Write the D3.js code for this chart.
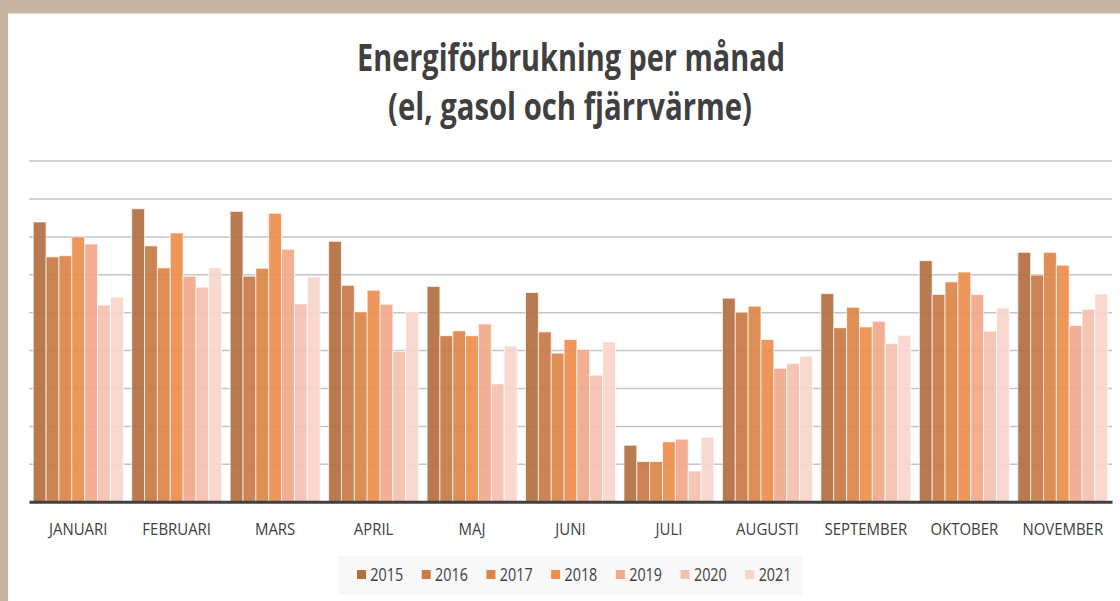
<!DOCTYPE html>
<html>
<head>
<meta charset="utf-8">
<script src="https://cdn.jsdelivr.net/npm/d3@7"></script>
<style>
    html, body { margin: 0; padding: 0; background: #c8b5a3; }
    #chart { width: 1120px; height: 601px; }
    text { font-family: "Open Sans", sans-serif; fill: #404040; }
</style>
</head>
<body>
<div id="chart"></div>
<script>
// Months and years
const months = ['JANUARI', 'FEBRUARI', 'MARS', 'APRIL', 'MAJ', 'JUNI', 'JULI',
    'AUGUSTI', 'SEPTEMBER', 'OKTOBER', 'NOVEMBER'];
const years = ['2015', '2016', '2017', '2018', '2019', '2020', '2021'];

// Values per year (gridline units)
const y2015 = [7.38, 7.73, 7.66, 6.87, 5.68, 5.52, 1.49, 5.37, 5.49, 6.36, 6.58];
const y2016 = [6.46, 6.75, 5.95, 5.71, 4.38, 4.48, 1.06, 5.00, 4.59, 5.47, 5.98];
const y2017 = [6.49, 6.17, 6.16, 5.01, 4.51, 3.92, 1.06, 5.16, 5.13, 5.80, 6.58];
const y2018 = [6.99, 7.09, 7.61, 5.58, 4.38, 4.28, 1.58, 4.28, 4.61, 6.06, 6.24];
const y2019 = [6.80, 5.95, 6.66, 5.21, 4.69, 4.02, 1.65, 3.52, 4.76, 5.47, 4.65];
const y2020 = [5.19, 5.66, 5.22, 3.97, 3.11, 3.34, 0.81, 3.65, 4.17, 4.50, 5.08];
const y2021 = [5.40, 6.17, 5.93, 5.01, 4.11, 4.22, 1.70, 3.84, 4.39, 5.11, 5.48];
const series = [y2015, y2016, y2017, y2018, y2019, y2020, y2021];

const gridTicks = [1, 2, 3, 4, 5, 6, 7, 8, 9];

const colors = ['#b36f40', '#c97a45', '#db8548', '#ee8e4c', '#f2a88a', '#f4c1b0', '#f7d5cb'];

// Table for drawing
const table = months.map((m, i) => {
    const row = { month: m };
    years.forEach((y, j) => { row[y] = series[j][i]; });
    return row;
});

const W = 1120, H = 601;
const svg = d3.select('#chart').append('svg')
    .attr('width', W).attr('height', H);

// white panel on tan frame
svg.append('rect').attr('x', 8).attr('y', 13).attr('width', W - 8).attr('height', H - 13)
    .attr('fill', '#ffffff');
svg.append('line').attr('x1', 8).attr('x2', W).attr('y1', 13.5).attr('y2', 13.5)
    .attr('stroke', '#dde0e3').attr('stroke-width', 1);

// Title
const title = svg.append('g').attr('font-weight', 700).attr('text-anchor', 'middle');
title.append('text').attr('x', 571).attr('y', 71)
    .attr('font-size', 37).attr('textLength', 428).attr('lengthAdjust', 'spacingAndGlyphs')
    .text('Energiförbrukning per månad');
title.append('text').attr('x', 570).attr('y', 120)
    .attr('font-size', 37).attr('textLength', 364).attr('lengthAdjust', 'spacingAndGlyphs')
    .text('(el, gasol och fjärrvärme)');

// Scales
const x0 = d3.scaleBand().domain(months).range([29, 1112])
    .paddingInner(0.086).paddingOuter(0.043);
const x1 = d3.scaleBand().domain(years).range([0, x0.bandwidth()]);
const y = d3.scaleLinear().domain([0, 9]).range([501.7, 160.6]);

// Gridlines
svg.append('g')
    .attr('transform', 'translate(29,0)')
    .call(d3.axisLeft(y).tickValues(gridTicks).tickSize(-(1112 - 29)).tickFormat(''))
    .call(g => g.select('.domain').remove())
    .call(g => g.selectAll('.tick line').attr('stroke', '#c4c4c4').attr('stroke-width', 1.5));

// Bars
svg.append('g').selectAll('g')
    .data(table)
    .join('g')
    .attr('transform', d => `translate(${x0(d.month)},0)`)
    .selectAll('rect')
    .data(d => years.map((yr, j) => ({ key: yr, value: d[yr], j })))
    .join('rect')
    .attr('x', d => x1(d.key))
    .attr('y', d => y(d.value))
    .attr('width', x1.bandwidth())
    .attr('height', d => y(0) - y(d.value))
    .attr('fill', d => colors[d.j])
    .attr('fill-opacity', 0.92)
    .attr('stroke', 'rgba(255,255,255,0.7)')
    .attr('stroke-width', 1);

// X axis
svg.append('g')
    .attr('transform', `translate(0,${y(0)})`)
    .call(d3.axisBottom(x0).tickSize(0))
    .call(g => g.select('.domain').attr('stroke', '#404040').attr('stroke-width', 3))
    .call(g => g.selectAll('.tick text')
        .attr('y', 33).attr('dy', 0)
        .attr('font-size', 17)
        .attr('font-family', '"Open Sans", sans-serif')
        .attr('fill', '#404040')
        .attr('transform', 'scale(0.88,1)'));

// Legend
svg.append('rect').attr('x', 338).attr('y', 556).attr('width', 464).attr('height', 39)
    .attr('fill', '#f8f8f8');
const lx = d3.scaleBand().domain(years).range([352, 805]);
const leg = svg.append('g').selectAll('g')
    .data(years)
    .join('g')
    .attr('transform', d => `translate(${lx(d)},0)`);
leg.append('rect').attr('x', 5).attr('y', 570).attr('width', 9).attr('height', 9)
    .attr('fill', (d, i) => colors[i]);
leg.append('text').attr('x', 18).attr('y', 581)
    .attr('font-size', 17.5)
    .attr('transform', 'translate(3.6,0) scale(0.82,1)')
    .text(d => d);
</script>
</body>
</html>
